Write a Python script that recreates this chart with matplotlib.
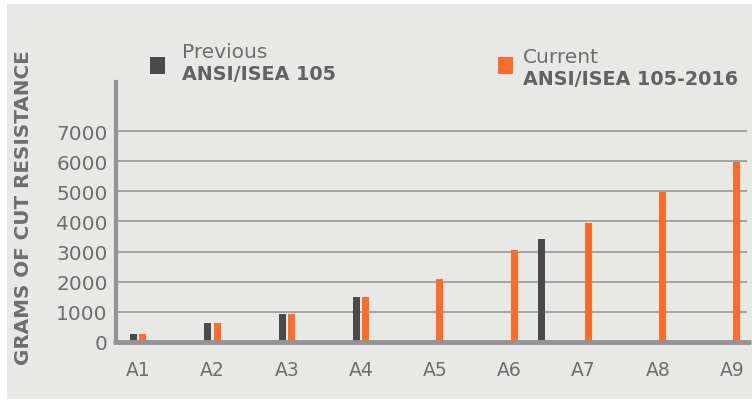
import matplotlib
matplotlib.use("Agg")
import matplotlib.pyplot as plt
from matplotlib.patches import Rectangle
from matplotlib.lines import Line2D
import numpy as np

# ---- data ----
categories = ["A1", "A2", "A3", "A4", "A5", "A6", "A7", "A8", "A9"]
current_values = [270, 630, 930, 1490, 2090, 3050, 3950, 4970, 5970]
previous_slots = [0, 1, 2, 3, 5.5]          # category slot (last sits between A6 and A7)
previous_values = [270, 630, 930, 1500, 3420]
y_ticks = [0, 1000, 2000, 3000, 4000, 5000, 6000, 7000]

# ---- style ----
W, H, DPI = 752, 402, 100
panel = "#e8e8e6"
dark = "#4a4a4c"
orange = "#ff6b2b"
txt = "#6e6e6e"
grid_c = "#a3a3a3"
axis_c = "#939396"
font = "DejaVu Sans"

fig = plt.figure(figsize=(W / DPI, H / DPI), dpi=DPI, facecolor="white")
fig.patches.append(Rectangle((7 / W, 2 / H), 1 - 7 / W, 395 / H,
                             transform=fig.transFigure, facecolor=panel,
                             edgecolor="none", zorder=-5))

ax = fig.add_axes([116 / W, (H - 343) / H, (747 - 116) / W, (343 - 83) / H])
ax.set_facecolor("none")
ax.set_zorder(2)

x = np.arange(len(categories))
bw = 0.095
off = 0.062
ax.bar(x + off, current_values, width=bw, color=orange, zorder=3)
ax.bar(np.array(previous_slots) - off, previous_values, width=bw, color=dark, zorder=3)

ax.set_xlim(-0.3, 8.2)
ax.set_ylim(0, 8630)
ax.set_yticks(y_ticks)
ax.set_xticks(x)
ax.set_xticklabels(categories)
for t in y_ticks[1:]:
    ax.axhline(t, color=grid_c, lw=1.4, zorder=1)

for s in ["top", "right", "bottom"]:
    ax.spines[s].set_visible(False)
ax.spines["left"].set_color(axis_c)
ax.spines["left"].set_linewidth(3)
ax.add_line(Line2D([-0.004, 1.007], [0, 0], transform=ax.transAxes,
                   color=axis_c, lw=3.5, clip_on=False, zorder=4,
                   solid_capstyle="butt"))

ax.tick_params(axis="both", length=0, labelcolor=txt)
ax.tick_params(axis="y", pad=6, labelsize=14.5)
ax.tick_params(axis="x", pad=13, labelsize=13.5)
for lab in ax.get_xticklabels() + ax.get_yticklabels():
    lab.set_family(font)

fig.text(24 / W, 1 - 208 / H, "GRAMS OF CUT RESISTANCE", rotation=90,
         ha="center", va="center", fontsize=14.3, fontweight="bold",
         color=txt, family=font)

# ---- legend ----
def legend_entry(sq_x, tx, top_y, line1, line2, color):
    fig.patches.append(Rectangle((sq_x / W, 1 - 75 / H), 15 / W, 17 / H,
                                 transform=fig.transFigure, facecolor=color,
                                 edgecolor="none"))
    fig.text(tx / W, 1 - top_y / H, line1, ha="left", va="baseline",
             fontsize=14.5, color=txt, family=font)
    fig.text(tx / W, 1 - (top_y + 22) / H, line2, ha="left", va="baseline",
             fontsize=13.8, fontweight="bold", color="#626262", family=font)

legend_entry(150, 182, 58, "Previous", "ANSI/ISEA 105", dark)
legend_entry(498, 523, 63, "Current", "ANSI/ISEA 105-2016", orange)

fig.savefig("out.png", dpi=DPI, facecolor="white")
